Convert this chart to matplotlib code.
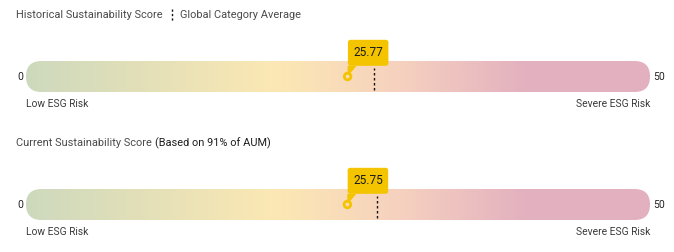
import matplotlib
matplotlib.use("Agg")
import matplotlib.pyplot as plt
import matplotlib.transforms as mtransforms
from matplotlib.patches import FancyBboxPatch, Polygon, Circle
from matplotlib.colors import LinearSegmentedColormap
import numpy as np

# ---- data ----
panel_titles = ["Historical Sustainability Score", "Current Sustainability Score"]
title_suffix = ["", "(Based on 91% of AUM)"]
scores = [25.77, 25.75]
category_avgs = [27.91, 28.15]
scale_min, scale_max = 0, 50
low_label, high_label = "Low ESG Risk", "Severe ESG Risk"
legend_label = "Global Category Average"

FONT = ['Roboto', 'DejaVu Sans']
TXT = "#3a3a3a"
GOLD = "#f5c400"

grad_stops = [(0.0, "#cdd9bd"), (0.4, "#fce8b3"), (0.6, "#f6d1bf"),
              (0.8, "#e3b1bf"), (1.0, "#e2b0be")]
cmap = LinearSegmentedColormap.from_list("esg", grad_stops)

W, H = 674, 252
fig = plt.figure(figsize=(W / 100, H / 100), dpi=100)

def fx(px):
    return px / W

def fy(py):
    return 1 - py / H

bar_tops = [61, 189]
bar_h = 31
bar_left, bar_w = 26, 624
title_y = [15, 143]

for i in range(2):
    top = bar_tops[i]
    ax = fig.add_axes([fx(bar_left), fy(top + bar_h), bar_w / W, bar_h / H])
    ax.set_xlim(scale_min, scale_max)
    ax.set_ylim(0, 1)
    ax.axis("off")

    # gradient bar clipped to rounded rectangle
    grad = np.linspace(0, 1, 512).reshape(1, -1)
    im = ax.imshow(grad, cmap=cmap, extent=[scale_min, scale_max, 0, 1],
                   aspect="auto", interpolation="bicubic", zorder=1)
    units_per_px = (scale_max - scale_min) / bar_w
    r_x = (bar_h / 2) * units_per_px
    box = FancyBboxPatch((scale_min, 0), scale_max - scale_min, 1,
                         boxstyle=f"round,pad=0,rounding_size={r_x}",
                         mutation_aspect=(0.5 / r_x),
                         transform=ax.transData, facecolor="none", edgecolor="none")
    ax.add_patch(box)
    im.set_clip_path(box)

    # category average dashed line
    ax.plot([category_avgs[i], category_avgs[i]], [0.05, 0.78], color="#111111",
            lw=1.0, ls=(0, (1.8, 1.8)), zorder=3)

    # marker + tooltip, offsets in pixels from marker center
    off = fig.dpi_scale_trans + mtransforms.ScaledTranslation(scores[i], 0.5, ax.transData)
    s = 1 / 100.0
    tail = Polygon(np.array([(0.0, 10.7), (0.0, 3.0), (2.5, 3.0), (9.0, 10.7)]) * s,
                   closed=True, transform=off, facecolor=GOLD, edgecolor="none",
                   zorder=5, clip_on=False)
    ax.add_patch(tail)
    tip = FancyBboxPatch((0.3 * s, 10.7 * s), 40.5 * s, 26 * s,
                         boxstyle=f"round,pad=0,rounding_size={2.5 * s}",
                         transform=off, facecolor=GOLD, edgecolor="none",
                         zorder=5, clip_on=False)
    ax.add_patch(tip)
    ax.text(20.5 * s, 23.5 * s, f"{scores[i]:.2f}", transform=off, ha="center",
            va="center", fontsize=8.5, color="#1a1a1a", family=FONT, zorder=6)
    circ = Circle((0, 0), 3.3 * s, transform=off, facecolor="none",
                  edgecolor=GOLD, lw=2.0, zorder=6, clip_on=False)
    ax.add_patch(circ)

    # end labels
    cy = top + bar_h / 2
    fig.text(fx(17), fy(cy), str(scale_min), ha="left", va="center",
             fontsize=7.5, color="#222222", family=FONT)
    fig.text(fx(653), fy(cy), str(scale_max), ha="left", va="center",
             fontsize=7.5, color="#222222", family=FONT)
    fig.text(fx(26), fy(top + bar_h + 12), low_label, ha="left", va="center",
             fontsize=7.4, color=TXT, family=FONT)
    fig.text(fx(650), fy(top + bar_h + 12), high_label, ha="right", va="center",
             fontsize=7.4, color=TXT, family=FONT)

# titles
fig.text(fx(16), fy(title_y[0]), panel_titles[0], ha="left", va="center",
         fontsize=7.9, color="#4a4a4a", family=FONT)
fig.add_artist(plt.Line2D([fx(171.5), fx(171.5)], [fy(9), fy(21)], color="#111111",
                          lw=1.0, ls=(0, (1.6, 1.6))))
fig.text(fx(180), fy(title_y[0]), legend_label, ha="left", va="center",
         fontsize=7.9, color="#4a4a4a", family=FONT)

t = fig.text(fx(16), fy(title_y[1]), panel_titles[1] + " ", ha="left", va="center",
             fontsize=7.9, color="#4a4a4a", family=FONT)
fig.canvas.draw()
bb = t.get_window_extent()
fig.text(bb.x1 / W, fy(title_y[1]), title_suffix[1], ha="left", va="center",
         fontsize=7.9, color="#1e1e1e", family=FONT)

fig.savefig("out.png", dpi=100)
